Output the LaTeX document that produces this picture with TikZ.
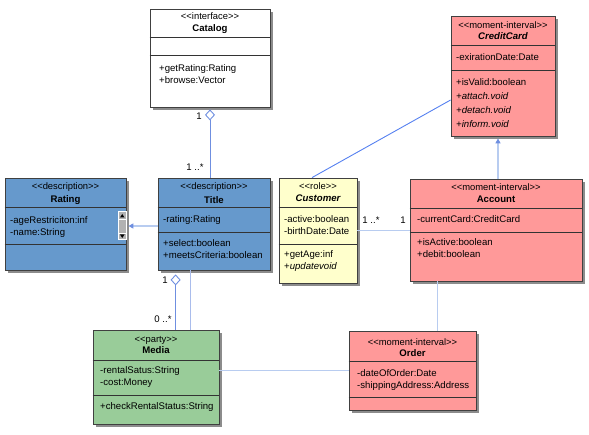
\documentclass[tikz,border=0pt]{standalone}
\usepackage{fontspec}
\setmainfont{Liberation Sans}[Ligatures=TeXOff]
\usetikzlibrary{arrows.meta,shadows,positioning}
\definecolor{descblue}{HTML}{6699CC}
\definecolor{mipink}{HTML}{FF9999}
\definecolor{partygreen}{HTML}{99CC99}
\definecolor{roleyellow}{HTML}{FFFFCC}
\definecolor{linkblue}{HTML}{B8CCF0}
\definecolor{aggblue}{HTML}{6F8FE0}
\definecolor{assocblue}{HTML}{5580F0}
\tikzset{
  classbox/.style={draw=black!75, line width=0.8pt, inner sep=0pt,
    drop shadow={shadow xshift=3pt, shadow yshift=-3pt, fill=black!45, opacity=1}},
  sep/.style={draw=black!80, line width=0.8pt},
  stereo/.style={font=\fontsize{9.4}{11}\selectfont, inner sep=0pt},
  cname/.style={font=\fontsize{9.6}{11}\selectfont\bfseries, inner sep=0pt},
  members/.style={font=\fontsize{9.6}{12}\selectfont, align=left, anchor=west, inner sep=0pt},
  mult/.style={font=\fontsize{9.6}{11}\selectfont, inner sep=0pt},
  link/.style={draw=linkblue, line width=1.4pt},
  agg/.style={draw=aggblue, line width=0.9pt, {Diamond[open, length=11pt, width=10pt, line width=0.9pt]}-},
  genarrow/.style={-{Triangle[length=5pt, width=5pt, color=aggblue]}},
}
\begin{document}
\begin{tikzpicture}[x=1pt,y=-1pt]
\useasboundingbox (0,0) rectangle (589,435);

% class boxes
\node[classbox, fill=white, minimum width=120pt, minimum height=98pt] (Catalog) at (210,58) {};
\node[classbox, fill=mipink, minimum width=104pt, minimum height=120pt] (CreditCard) at (503,76) {};
\node[classbox, fill=descblue, minimum width=121pt, minimum height=92pt] (Rating) at (65.5,224) {};
\node[classbox, fill=descblue, minimum width=112pt, minimum height=92pt] (Title) at (214,224) {};
\node[classbox, fill=roleyellow, minimum width=78pt, minimum height=105pt] (Customer) at (318,230.5) {};
\node[classbox, fill=mipink, minimum width=172pt, minimum height=102pt] (Account) at (496,230) {};
\node[classbox, fill=partygreen, minimum width=126pt, minimum height=94pt] (Media) at (156,377) {};
\node[classbox, fill=mipink, minimum width=127pt, minimum height=79pt] (Order) at (412.5,370.5) {};

% compartments
\draw[sep] (Catalog.west |- 0,37) -- (Catalog.east |- 0,37);
\draw[sep] (Catalog.west |- 0,55) -- (Catalog.east |- 0,55);
\draw[sep] (CreditCard.west |- 0,45) -- (CreditCard.east |- 0,45);
\draw[sep] (CreditCard.west |- 0,70) -- (CreditCard.east |- 0,70);
\draw[sep] (Rating.west |- 0,207) -- (Rating.east |- 0,207);
\draw[sep] (Rating.west |- 0,244) -- (Rating.east |- 0,244);
\draw[sep] (Title.west |- 0,207) -- (Title.east |- 0,207);
\draw[sep] (Title.west |- 0,232) -- (Title.east |- 0,232);
\draw[sep] (Customer.west |- 0,207) -- (Customer.east |- 0,207);
\draw[sep] (Customer.west |- 0,244) -- (Customer.east |- 0,244);
\draw[sep] (Account.west |- 0,208) -- (Account.east |- 0,208);
\draw[sep] (Account.west |- 0,232) -- (Account.east |- 0,232);
\draw[sep] (Media.west |- 0,360) -- (Media.east |- 0,360);
\draw[sep] (Media.west |- 0,395) -- (Media.east |- 0,395);
\draw[sep] (Order.west |- 0,361) -- (Order.east |- 0,361);
\draw[sep] (Order.west |- 0,397) -- (Order.east |- 0,397);

% texts
\node[stereo] (CatalogSt) at (210,16) {<<interface>>};
\node[cname] (CatalogNm) at (210,29) {Catalog};
\node[members] (CatalogOps) at (159,74.5) {+getRating:Rating\\+browse:Vector};

\node[stereo] (CreditCardSt) at (503,25) {<<moment-interval>>};
\node[cname, font=\fontsize{9.6}{11}\selectfont\bfseries\itshape] (CreditCardNm) at (503,36) {CreditCard};
\node[members] (CreditCardAt) at (456,57) {-exirationDate:Date};
\node[members, font=\fontsize{9.6}{14}\selectfont] (CreditCardOps) at (456,103.5)
  {+isValid:boolean\\\textit{+attach.void}\\\textit{+detach.void}\\\textit{+inform.void}};

\node[stereo] (RatingSt) at (65.5,187) {<<description>>};
\node[cname] (RatingNm) at (65.5,200) {Rating};
\node[members] (RatingAt) at (10,227.5) {-ageRestriciton:inf\\-name:String};

\node[stereo] (TitleSt) at (214,187) {<<description>>};
\node[cname] (TitleNm) at (214,200) {Title};
\node[members] (TitleAt) at (163,220) {-rating:Rating};
\node[members] (TitleOps) at (163,249.5) {+select:boolean\\+meetsCriteria:boolean};

\node[stereo] (CustomerSt) at (318,186) {<<role>>};
\node[cname, font=\fontsize{9.6}{11}\selectfont\bfseries\itshape] (CustomerNm) at (318,198) {Customer};
\node[members] (CustomerAt) at (284,225) {-active:boolean\\-birthDate:Date};
\node[members] (CustomerOps) at (284,261) {+getAge:inf\\+\textit{updatevoid}};

\node[stereo] (AccountSt) at (496,187) {<<moment-interval>>};
\node[cname] (AccountNm) at (496,199) {Account};
\node[members] (AccountAt) at (417,219) {-currentCard:CreditCard};
\node[members] (AccountOps) at (417,248) {+isActive:boolean\\+debit:boolean};

\node[stereo] (MediaSt) at (156,340) {<<party>>};
\node[cname] (MediaNm) at (156,350.5) {Media};
\node[members] (MediaAt) at (100,377.5) {-rentalSatus:String\\-cost:Money};
\node[members] (MediaOps) at (100,407) {+checkRentalStatus:String};

\node[stereo] (OrderSt) at (412.5,342) {<<moment-interval>>};
\node[cname] (OrderNm) at (412.5,353) {Order};
\node[members] (OrderAt) at (357,380) {-dateOfOrder:Date\\-shippingAddress:Address};

% scroll widget on Rating
\fill[white] (117.5,211.5) rectangle (127,240.5);
\fill[black!30] (118.5,212.5) rectangle (126,239.5);
\draw[white, line width=0.6pt] (118.5,219) -- (126,219);
\draw[white, line width=0.6pt] (118.5,233) -- (126,233);
\fill (120,217.5) -- (124.5,217.5) -- (122.25,214) -- cycle;
\fill (120,234.5) -- (124.5,234.5) -- (122.25,238) -- cycle;

% connectors
\draw[agg, shorten <=2pt] (Catalog.south) -- (Catalog.south |- Title.north);
\draw[agg, shorten <=4pt] ([xshift=18pt]Title.south west) -- ([xshift=18pt]Title.south west |- Media.north);
\draw[draw=aggblue!60, line width=0.8pt] ([xshift=33pt]Title.south west) -- ([xshift=33pt]Title.south west |- Media.north);
\draw[link, genarrow, shorten >=2pt] ([yshift=-2pt]Title.west) -- ([yshift=-2pt]Rating.east);
\draw[draw=assocblue, line width=0.9pt] ([xshift=-6pt]Customer.north) -- ([yshift=-24pt]CreditCard.west);
\draw[link, genarrow, shorten >=2pt] ([xshift=2pt]Account.north) -- ([xshift=2pt]Account.north |- CreditCard.south);
\draw[link] (Customer.east) -- (Customer.east -| Account.west);
\draw[link] ([xshift=28pt]Account.south west) -- ([xshift=28pt]Account.south west |- Order.north);
\draw[link] (Order.west -| Media.east) -- (Order.west);

% multiplicities
\node[mult] (CatalogM) at (199,116) {1};
\node[mult] (TitleCatM) at (195,167) {1 ..*};
\node[mult] (TitleM) at (165,280) {1};
\node[mult] (MediaM) at (163,319) {0 ..*};
\node[mult] (CustomerM) at (371,220) {1 ..*};
\node[mult] (AccountM) at (403,220) {1};
\end{tikzpicture}
\end{document}
